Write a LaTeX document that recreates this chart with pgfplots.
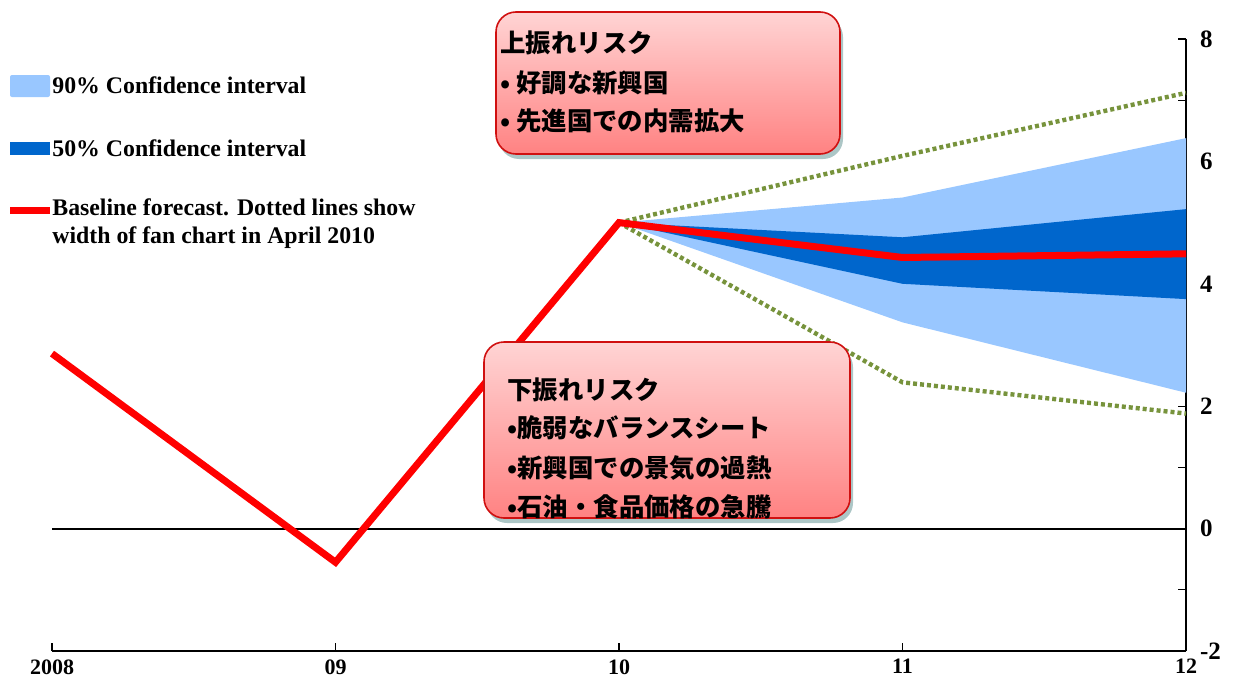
\documentclass[border=0pt]{standalone}
\usepackage{pgfplots}
\pgfplotsset{compat=1.18}
\usepackage{fontspec}
\setmainfont{Liberation Serif}
\newfontfamily\cjk{Noto Sans CJK JP}
\usetikzlibrary{shadows}

\definecolor{band90}{HTML}{99C7FF}
\definecolor{band50}{HTML}{0066CC}
\definecolor{basered}{HTML}{FF0000}
\definecolor{aprilgreen}{HTML}{77933C}
\definecolor{boxtop}{HTML}{FFD4D4}
\definecolor{boxbottom}{HTML}{FF8282}
\definecolor{boxedge}{HTML}{D01010}

\tikzset{
  riskbox/.style={rounded corners=10pt, draw=boxedge, line width=0.8pt,
    top color=boxtop, bottom color=boxbottom,
    drop shadow={shadow xshift=1.5pt, shadow yshift=-2.5pt, opacity=0.45, fill=teal!45!gray}},
  risktext/.style={anchor=west, inner sep=0pt, font=\cjk\bfseries\fontsize{12.7}{14}\selectfont},
  legtext/.style={anchor=west, inner sep=0pt, align=left, font=\bfseries\fontsize{11.9}{14}\selectfont}
}

\begin{document}
\begin{tikzpicture}
\useasboundingbox (0,0) rectangle (618pt,341pt);

\begin{axis}[
  at={(26pt,15.5pt)}, anchor=south west,
  scale only axis, width=567pt, height=306pt,
  xmin=2008, xmax=2012, ymin=-2, ymax=8,
  axis x line=bottom, axis y line=right,
  axis line style={-, line width=0.8pt},
  xtick={2008,2009,2010,2011,2012},
  xticklabels={2008,09,10,11,12},
  ytick={-2,0,2,4,6,8},
  minor ytick={-1,1,3,5,7},
  tick align=inside,
  major tick length=4pt, minor tick length=4pt,
  tick style={black, line width=0.6pt},
  /pgf/number format/assume math mode=true,
  xticklabel style={font=\bfseries\fontsize{11}{12}\selectfont, anchor=north, inner sep=0pt, yshift=-4pt},
  yticklabel style={font=\bfseries\fontsize{12.5}{13}\selectfont, anchor=west, xshift=3.5pt},
  clip=false,
]
% 90% confidence band
\addplot[draw=none, fill=band90] coordinates {
  (2010,5.0) (2011,5.41) (2012,6.38) (2012,2.22) (2011,3.37) (2010,5.0)} -- cycle;
% 50% confidence band
\addplot[draw=none, fill=band50] coordinates {
  (2010,5.0) (2011,4.76) (2012,5.22) (2012,3.75) (2011,4.0) (2010,5.0)} -- cycle;
% fan width in April 2010
\addplot[aprilgreen, line width=2.2pt, dash pattern=on 2pt off 1.5pt] coordinates {
  (2010,5.0) (2011,6.09) (2012,7.12)};
\addplot[aprilgreen, line width=2.2pt, dash pattern=on 2pt off 1.5pt] coordinates {
  (2010,5.0) (2011,2.39) (2012,1.88)};
% zero line
\addplot[black, line width=1pt] coordinates {(2008,0) (2012,0)};
% baseline forecast
\addplot[basered, line width=3.5pt] coordinates {
  (2008,2.86) (2009,-0.55) (2010,5.0) (2011,4.43) (2012,4.49)};
\end{axis}

% legend
\fill[band90, rounded corners=1pt] (5pt,292.5pt) rectangle (25pt,303.5pt);
\node[legtext] at (26pt,298.5pt) {90\% Confidence interval};
\fill[band50] (5pt,263.5pt) rectangle (25pt,270pt);
\node[legtext] at (26pt,267pt) {50\% Confidence interval};
\fill[basered] (5pt,234pt) rectangle (25pt,237.5pt);
\node[legtext, anchor=north west] at (26pt,242pt) {Baseline forecast. Dotted lines show\\width of fan chart in April 2010};

% upside risks
\path[riskbox] (248pt,264pt) rectangle (420pt,335pt);
\node[risktext] at (250pt,319.5pt) {上振れリスク};
\node[risktext] at (250pt,299.5pt) {• 好調な新興国};
\node[risktext] at (250pt,280.5pt) {• 先進国での内需拡大};

% downside risks
\path[riskbox] (242pt,82pt) rectangle (425pt,170pt);
\node[risktext] at (253.5pt,146pt) {下振れリスク};
\node[risktext] at (253.5pt,127pt) {•脆弱なバランスシート};
\node[risktext] at (253.5pt,107pt) {•新興国での景気の過熱};
\node[risktext] at (253.5pt,87.5pt) {•石油・食品価格の急騰};
\end{tikzpicture}
\end{document}
